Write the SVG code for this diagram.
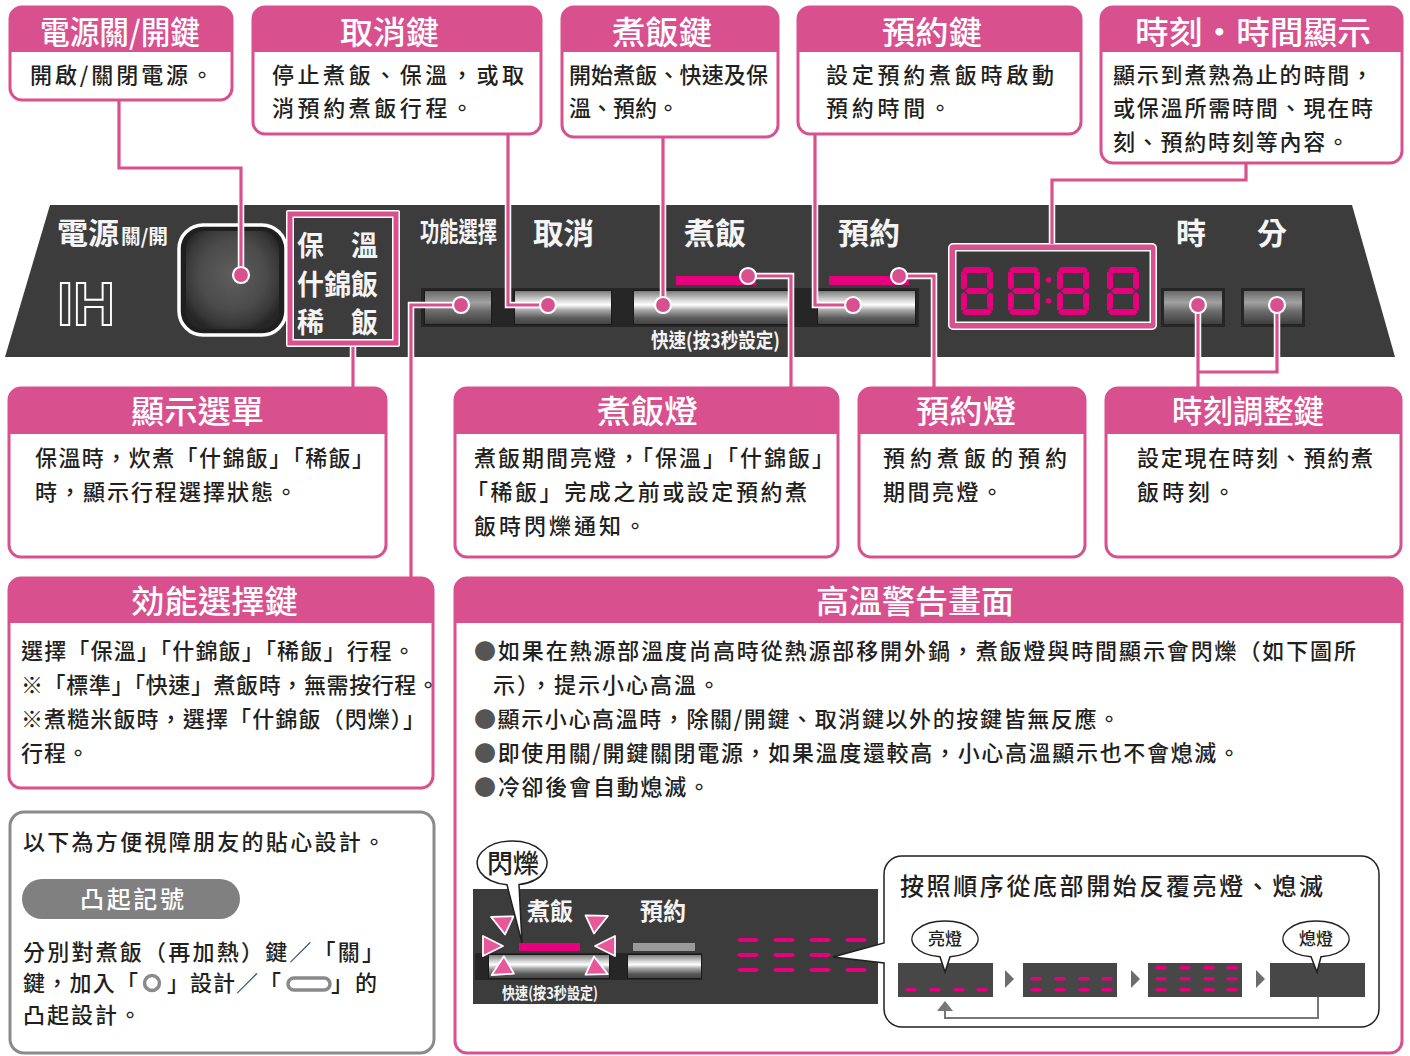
<svg xmlns="http://www.w3.org/2000/svg" width="1410" height="1056" viewBox="0 0 1410 1056">
<style>
  .cjk{font-family:"Noto Sans CJK TC","Noto Sans CJK SC",sans-serif}
  .hdr{fill:#D9508F}
  .frame{fill:none;stroke:#D9508F;stroke-width:3}
  .ttl{font-family:"Noto Sans CJK TC","Noto Sans CJK SC",sans-serif;font-size:32px;font-weight:500;fill:#fff}
  .txt{font-family:"Noto Sans CJK TC","Noto Sans CJK SC",sans-serif;font-size:22px;font-weight:500;fill:#231f20}
  .pl{font-family:"Noto Sans CJK TC","Noto Sans CJK SC",sans-serif;font-weight:700;fill:#f4f4f4}
  .led{fill:#E6007E}
  .wire-edge{fill:none;stroke:#fff;stroke-width:6.5}
  .wire{fill:none;stroke:#D9508F;stroke-width:3.2}
  .dot{fill:#D9508F;stroke:#fff;stroke-width:2.2}
  .ink{fill:#fff;stroke:#231f20;stroke-width:1.5}
  .gbul{fill:#555}
</style>
<defs>
  <linearGradient id="metal" x1="0" y1="0" x2="0" y2="1">
    <stop offset="0" stop-color="#7c7c7c"/>
    <stop offset="0.28" stop-color="#d8d8d8"/>
    <stop offset="0.42" stop-color="#ffffff"/>
    <stop offset="0.58" stop-color="#a8a8a8"/>
    <stop offset="0.82" stop-color="#5a5a5a"/>
    <stop offset="1" stop-color="#444"/>
  </linearGradient>
  <linearGradient id="metalDark" x1="0" y1="0" x2="0" y2="1">
    <stop offset="0" stop-color="#6a6a6a"/>
    <stop offset="0.35" stop-color="#a2a2a2"/>
    <stop offset="0.6" stop-color="#6e6e6e"/>
    <stop offset="1" stop-color="#3e3e3e"/>
  </linearGradient>
  <radialGradient id="knob" cx="0.5" cy="0.45" r="0.6">
    <stop offset="0" stop-color="#5e5e5e"/>
    <stop offset="0.6" stop-color="#4b4b4b"/>
    <stop offset="0.85" stop-color="#383838"/>
    <stop offset="1" stop-color="#262626"/>
  </radialGradient>
  <!-- seven segment "8" -->
  <g id="seg8">
    <polygon points="4,0 28,0 31,3 27,6 5,6 1,3"/>
    <polygon points="0,5 3,4 6,8 6,20 3,23 0,21"/>
    <polygon points="32,5 29,4 26,8 26,20 29,23 32,21"/>
    <polygon points="4,24 7,21 25,21 28,24 25,27 7,27"/>
    <polygon points="0,27 3,25 6,28 6,40 3,44 0,43"/>
    <polygon points="32,27 29,25 26,28 26,40 29,44 32,43"/>
    <polygon points="5,42 27,42 31,45 28,48 4,48 1,45"/>
  </g>
  <path id="dash" d="M2,0 H20 L22,2 L20,4 H2 L0,2 Z"/>
  <path id="dashS" d="M1.5,0 H10.5 L12,1.7 L10.5,3.4 H1.5 L0,1.7 Z"/>
  <path id="tri" d="M-8,-10 L12,0 L-8,10 Z"/>
</defs>

<rect width="1410" height="1056" fill="#fff"/>

<!-- control panel -->
<g id="panel">
  <polygon points="50,205 1352,205 1395,357 5,357" fill="#3c3c3c"/>
  <text class="pl" x="57" y="244" font-size="30" textLength="62" lengthAdjust="spacingAndGlyphs">電源</text>
  <text class="pl" x="121" y="244" font-size="20" font-weight="500" textLength="47" lengthAdjust="spacingAndGlyphs">關/開</text>
  <text x="57" y="325" font-family="Liberation Sans, sans-serif" font-weight="700" font-size="62" fill="none" stroke="#fff" stroke-width="2" textLength="58" lengthAdjust="spacingAndGlyphs">IH</text>

  <!-- power knob -->
  <rect x="179" y="225" width="107" height="110" rx="24" fill="#1f1f1f" stroke="#fff" stroke-width="3.5"/>
  <rect x="186" y="231" width="93" height="98" rx="18" fill="url(#knob)"/>

  <!-- menu indicator -->
  <rect x="286" y="210" width="114" height="137" rx="2" fill="#fff"/>
  <rect x="287.5" y="211.5" width="111" height="134" fill="#D9508F"/>
  <rect x="292.5" y="216.5" width="101" height="124" fill="#fff"/>
  <rect x="294" y="218" width="98" height="121" fill="#3c3c3c"/>
  <text class="pl" x="297" y="256" font-size="28" font-weight="400" textLength="81" lengthAdjust="spacingAndGlyphs">保　溫</text>
  <text class="pl" x="297" y="295" font-size="28" font-weight="400" textLength="81" lengthAdjust="spacingAndGlyphs">什錦飯</text>
  <text class="pl" x="297" y="333" font-size="28" font-weight="400" textLength="81" lengthAdjust="spacingAndGlyphs">稀　飯</text>

  <!-- key labels -->
  <text class="pl" x="420" y="242" font-size="27" textLength="77" lengthAdjust="spacingAndGlyphs">功能選擇</text>
  <text class="pl" x="533" y="244" font-size="30" textLength="61" lengthAdjust="spacingAndGlyphs">取消</text>
  <text class="pl" x="684" y="244" font-size="30" textLength="62" lengthAdjust="spacingAndGlyphs">煮飯</text>
  <text class="pl" x="838" y="244" font-size="30" textLength="62" lengthAdjust="spacingAndGlyphs">預約</text>
  <text class="pl" x="1176" y="244" font-size="30">時</text>
  <text class="pl" x="1257" y="244" font-size="30">分</text>

  <!-- key row -->
  <rect x="421" y="288" width="498" height="39" fill="#262626"/>
  <rect x="424" y="290" width="68" height="35" fill="#1a1a1a"/>
  <rect x="425" y="291" width="66" height="33" fill="url(#metalDark)"/>
  <rect x="514" y="290" width="98" height="35" fill="#1a1a1a"/>
  <rect x="515" y="291" width="96" height="33" fill="url(#metal)"/>
  <rect x="633" y="290" width="158" height="35" fill="#1a1a1a"/>
  <rect x="634" y="291" width="156" height="33" fill="url(#metal)"/>
  <rect x="817" y="290" width="99" height="35" fill="#1a1a1a"/>
  <rect x="818" y="291" width="97" height="33" fill="url(#metal)"/>
  <rect x="1161" y="288" width="64" height="39" fill="#262626"/>
  <rect x="1164" y="291" width="58" height="33" fill="url(#metalDark)"/>
  <rect x="1241" y="288" width="64" height="39" fill="#262626"/>
  <rect x="1244" y="291" width="58" height="33" fill="url(#metalDark)"/>
  <text class="pl" x="651" y="348" font-size="20" font-weight="500" textLength="129" lengthAdjust="spacingAndGlyphs">快速(按3秒設定)</text>

  <!-- lamps -->
  <rect class="led" x="676" y="276" width="80" height="9"/>
  <rect class="led" x="829" y="276" width="80" height="9"/>

  <!-- clock display -->
  <rect x="948" y="243" width="209" height="87" rx="5" fill="#fff"/>
  <rect x="949.5" y="244.5" width="206" height="84" rx="4" fill="#D9508F"/>
  <rect x="955" y="250" width="196" height="73" fill="#fff"/>
  <rect x="956.5" y="251.5" width="193" height="70" fill="#3a3a3a"/>
  <g class="led">
    <use href="#seg8" x="961" y="267"/>
    <use href="#seg8" x="1008" y="267"/>
    <use href="#seg8" x="1057" y="267"/>
    <use href="#seg8" x="1107" y="267"/>
    <circle cx="1048.5" cy="280" r="2.8"/>
    <circle cx="1048.5" cy="301" r="2.8"/>
  </g>
</g>

<!-- leader lines -->
<g id="connectors">
  <path class="wire-edge" d="M119,100 V168 H241 V275"/>
  <path class="wire-edge" d="M508,134 V305 H548"/>
  <path class="wire-edge" d="M663,137 V305"/>
  <path class="wire-edge" d="M815,134 V305 H853"/>
  <path class="wire-edge" d="M1246,163 V180 H1052 V244"/>
  <path class="wire-edge" d="M353,347 V388"/>
  <path class="wire-edge" d="M461,305 H411 V578"/>
  <path class="wire-edge" d="M748,276 H791 V388"/>
  <path class="wire-edge" d="M899,276 H934 V388"/>
  <path class="wire-edge" d="M1198,305 V388"/>
  <path class="wire-edge" d="M1277,305 V372 H1198"/>
  <path class="wire" d="M119,100 V168 H241 V275"/>
  <path class="wire" d="M508,134 V305 H548"/>
  <path class="wire" d="M663,137 V305"/>
  <path class="wire" d="M815,134 V305 H853"/>
  <path class="wire" d="M1246,163 V180 H1052 V244"/>
  <path class="wire" d="M353,347 V388"/>
  <path class="wire" d="M461,305 H411 V578"/>
  <path class="wire" d="M748,276 H791 V388"/>
  <path class="wire" d="M899,276 H934 V388"/>
  <path class="wire" d="M1198,305 V388"/>
  <path class="wire" d="M1277,305 V372 H1198"/>
  <circle class="dot" cx="241" cy="275" r="8"/>
  <circle class="dot" cx="461" cy="305" r="8"/>
  <circle class="dot" cx="548" cy="305" r="8"/>
  <circle class="dot" cx="663" cy="305" r="8"/>
  <circle class="dot" cx="853" cy="305" r="8"/>
  <circle class="dot" cx="748" cy="276" r="8"/>
  <circle class="dot" cx="899" cy="276" r="8"/>
  <circle class="dot" cx="1198" cy="305" r="8"/>
  <circle class="dot" cx="1277" cy="305" r="8"/>
</g>

<!-- top row -->
<g id="key-power">
  <rect x="10" y="7" width="222" height="93" rx="12" fill="#fff"/>
  <path class="hdr" d="M10,52 V19 A12,12 0 0 1 22,7 H220 A12,12 0 0 1 232,19 V52 Z"/>
  <rect class="frame" x="10" y="7" width="222" height="93" rx="12"/>
  <text class="ttl" x="40" y="44" textLength="160" lengthAdjust="spacingAndGlyphs">電源關/開鍵</text>
  <text class="txt" x="30" y="83" textLength="183">開啟/關閉電源。</text>
</g>
<g id="key-cancel">
  <rect x="253" y="7" width="288" height="127" rx="12" fill="#fff"/>
  <path class="hdr" d="M253,52 V19 A12,12 0 0 1 265,7 H529 A12,12 0 0 1 541,19 V52 Z"/>
  <rect class="frame" x="253" y="7" width="288" height="127" rx="12"/>
  <text class="ttl" x="340" y="44" textLength="99" lengthAdjust="spacingAndGlyphs">取消鍵</text>
  <text class="txt" x="272" y="83" textLength="252">停止煮飯、保溫，或取</text>
  <text class="txt" x="272" y="116" textLength="201">消預約煮飯行程。</text>
</g>
<g id="key-cook">
  <rect x="562" y="7" width="216" height="130" rx="12" fill="#fff"/>
  <path class="hdr" d="M562,52 V19 A12,12 0 0 1 574,7 H766 A12,12 0 0 1 778,19 V52 Z"/>
  <rect class="frame" x="562" y="7" width="216" height="130" rx="12"/>
  <text class="ttl" x="612" y="44" textLength="100" lengthAdjust="spacingAndGlyphs">煮飯鍵</text>
  <text class="txt" x="569" y="83" textLength="199">開始煮飯、快速及保</text>
  <text class="txt" x="569" y="116" textLength="110">溫、預約。</text>
</g>
<g id="key-reserve">
  <rect x="798" y="7" width="283" height="127" rx="12" fill="#fff"/>
  <path class="hdr" d="M798,52 V19 A12,12 0 0 1 810,7 H1069 A12,12 0 0 1 1081,19 V52 Z"/>
  <rect class="frame" x="798" y="7" width="283" height="127" rx="12"/>
  <text class="ttl" x="882" y="44" textLength="100" lengthAdjust="spacingAndGlyphs">預約鍵</text>
  <text class="txt" x="826" y="83" textLength="228">設定預約煮飯時啟動</text>
  <text class="txt" x="826" y="116" textLength="125">預約時間。</text>
</g>
<g id="time-display">
  <rect x="1101" y="7" width="301" height="156" rx="12" fill="#fff"/>
  <path class="hdr" d="M1101,52 V19 A12,12 0 0 1 1113,7 H1390 A12,12 0 0 1 1402,19 V52 Z"/>
  <rect class="frame" x="1101" y="7" width="301" height="156" rx="12"/>
  <text class="ttl" x="1135" y="44" textLength="236" lengthAdjust="spacingAndGlyphs">時刻・時間顯示</text>
  <text class="txt" x="1113" y="83" textLength="260">顯示到煮熟為止的時間，</text>
  <text class="txt" x="1113" y="116" textLength="260">或保溫所需時間、現在時</text>
  <text class="txt" x="1113" y="150" textLength="236">刻、預約時刻等內容。</text>
</g>

<!-- middle row -->
<g id="menu-display">
  <rect x="9" y="388" width="377" height="169" rx="12" fill="#fff"/>
  <path class="hdr" d="M9,434 V400 A12,12 0 0 1 21,388 H374 A12,12 0 0 1 386,400 V434 Z"/>
  <rect class="frame" x="9" y="388" width="377" height="169" rx="12"/>
  <text class="ttl" x="131" y="423" textLength="133" lengthAdjust="spacingAndGlyphs">顯示選單</text>
  <text class="txt" x="35" y="466" textLength="339">保溫時，炊煮「什錦飯」「稀飯」</text>
  <text class="txt" x="35" y="500" textLength="262">時，顯示行程選擇狀態。</text>
</g>
<g id="cook-lamp">
  <rect x="455" y="388" width="383" height="169" rx="12" fill="#fff"/>
  <path class="hdr" d="M455,434 V400 A12,12 0 0 1 467,388 H826 A12,12 0 0 1 838,400 V434 Z"/>
  <rect class="frame" x="455" y="388" width="383" height="169" rx="12"/>
  <text class="ttl" x="597" y="423" textLength="101" lengthAdjust="spacingAndGlyphs">煮飯燈</text>
  <text class="txt" x="474" y="466" textLength="360">煮飯期間亮燈，「保溫」「什錦飯」</text>
  <text class="txt" x="466" y="500" textLength="341">「稀飯」完成之前或設定預約煮</text>
  <text class="txt" x="474" y="534" textLength="172">飯時閃爍通知。</text>
</g>
<g id="reserve-lamp">
  <rect x="859" y="388" width="226" height="169" rx="12" fill="#fff"/>
  <path class="hdr" d="M859,434 V400 A12,12 0 0 1 871,388 H1073 A12,12 0 0 1 1085,400 V434 Z"/>
  <rect class="frame" x="859" y="388" width="226" height="169" rx="12"/>
  <text class="ttl" x="916" y="423" textLength="100" lengthAdjust="spacingAndGlyphs">預約燈</text>
  <text class="txt" x="883" y="466" textLength="184">預約煮飯的預約</text>
  <text class="txt" x="883" y="500" textLength="120">期間亮燈。</text>
</g>
<g id="clock-keys">
  <rect x="1106" y="388" width="295" height="169" rx="12" fill="#fff"/>
  <path class="hdr" d="M1106,434 V400 A12,12 0 0 1 1118,388 H1389 A12,12 0 0 1 1401,400 V434 Z"/>
  <rect class="frame" x="1106" y="388" width="295" height="169" rx="12"/>
  <text class="ttl" x="1172" y="423" textLength="152" lengthAdjust="spacingAndGlyphs">時刻調整鍵</text>
  <text class="txt" x="1137" y="466" textLength="236">設定現在時刻、預約煮</text>
  <text class="txt" x="1137" y="500" textLength="98">飯時刻。</text>
</g>

<!-- bottom left -->
<g id="function-key">
  <rect x="9" y="578" width="424" height="210" rx="12" fill="#fff"/>
  <path class="hdr" d="M9,623 V590 A12,12 0 0 1 21,578 H421 A12,12 0 0 1 433,590 V623 Z"/>
  <rect class="frame" x="9" y="578" width="424" height="210" rx="12"/>
  <text class="ttl" x="131" y="613" textLength="167" lengthAdjust="spacingAndGlyphs">効能選擇鍵</text>
  <text class="txt" x="21" y="659" textLength="394">選擇「保溫」「什錦飯」「稀飯」行程。</text>
  <text class="txt" x="21" y="693" textLength="418">※「標準」「快速」煮飯時，無需按行程。</text>
  <text class="txt" x="21" y="727" textLength="404">※煮糙米飯時，選擇「什錦飯（閃爍）」</text>
  <text class="txt" x="21" y="761" textLength="68">行程。</text>
</g>

<g id="tactile-marks">
  <rect x="10" y="812" width="424" height="241" rx="14" fill="#fff" stroke="#8a8a8a" stroke-width="3"/>
  <text class="txt" x="23" y="850" textLength="362">以下為方便視障朋友的貼心設計。</text>
  <rect x="22" y="879" width="218" height="40" rx="20" fill="#808080"/>
  <text class="cjk" x="80" y="908" font-size="24" font-weight="500" fill="#fff" textLength="104">凸起記號</text>
  <text class="txt" x="23" y="960" textLength="361">分別對煮飯（再加熱）鍵／「關」</text>
  <text class="txt" x="23" y="991" textLength="115">鍵，加入「</text>
  <circle cx="152" cy="983" r="7.5" fill="#fff" stroke="#8a8a8a" stroke-width="3.5"/>
  <text class="txt" x="167" y="991" textLength="114">」設計／「</text>
  <rect x="288" y="978" width="42" height="12" rx="6" fill="#fff" stroke="#8a8a8a" stroke-width="3.5"/>
  <text class="txt" x="331" y="991" textLength="46">」的</text>
  <text class="txt" x="23" y="1023" textLength="118">凸起設計。</text>
</g>

<!-- bottom right -->
<g id="high-temp">
  <rect x="455" y="578" width="947" height="475" rx="12" fill="#fff"/>
  <path class="hdr" d="M455,623 V590 A12,12 0 0 1 467,578 H1390 A12,12 0 0 1 1402,590 V623 Z"/>
  <rect class="frame" x="455" y="578" width="947" height="475" rx="12"/>
  <text class="ttl" x="816" y="613" textLength="198" lengthAdjust="spacingAndGlyphs">高溫警告畫面</text>
  <text class="txt" x="474" y="659" textLength="882"><tspan class="gbul">●</tspan>如果在熱源部溫度尚高時從熱源部移開外鍋，煮飯燈與時間顯示會閃爍（如下圖所</text>
  <text class="txt" x="493" y="693" textLength="227">示），提示小心高溫。</text>
  <text class="txt" x="474" y="727" textLength="646"><tspan class="gbul">●</tspan>顯示小心高溫時，除關/開鍵、取消鍵以外的按鍵皆無反應。</text>
  <text class="txt" x="474" y="761" textLength="766"><tspan class="gbul">●</tspan>即使用關/開鍵關閉電源，如果溫度還較高，小心高溫顯示也不會熄滅。</text>
  <text class="txt" x="474" y="795" textLength="236"><tspan class="gbul">●</tspan>冷卻後會自動熄滅。</text>

  <!-- warning example panel -->
  <rect x="473" y="889" width="405" height="115" fill="#3c3c3c"/>
  <text class="pl" x="527" y="920" font-size="24" textLength="46" lengthAdjust="spacingAndGlyphs">煮飯</text>
  <text class="pl" x="640" y="920" font-size="24" textLength="46" lengthAdjust="spacingAndGlyphs">預約</text>
  <rect class="led" x="519" y="943" width="61" height="8"/>
  <rect x="633" y="943" width="62" height="8" fill="#9a9a9a"/>
  <rect x="475" y="953" width="227" height="27" fill="#262626"/>
  <rect x="488" y="954" width="122" height="25" fill="#1a1a1a"/>
  <rect x="489" y="955" width="120" height="23" fill="url(#metal)"/>
  <rect x="627" y="954" width="75" height="25" fill="#1a1a1a"/>
  <rect x="628" y="955" width="73" height="23" fill="url(#metal)"/>
  <text class="pl" x="502" y="999" font-size="16" font-weight="500" textLength="96" lengthAdjust="spacingAndGlyphs">快速(按3秒設定)</text>
  <g fill="#E8579A" stroke="#fff" stroke-width="1.8" stroke-linejoin="round">
    <use href="#tri" transform="translate(502,922) rotate(205)"/>
    <use href="#tri" transform="translate(491,946)"/>
    <use href="#tri" transform="translate(502,969) rotate(150)"/>
    <use href="#tri" transform="translate(597,921) rotate(-25)"/>
    <use href="#tri" transform="translate(607,946) rotate(180)"/>
    <use href="#tri" transform="translate(597,969) rotate(25)"/>
  </g>
  <g class="led">
    <use href="#dash" x="737" y="938"/><use href="#dash" x="773" y="938"/><use href="#dash" x="809" y="938"/><use href="#dash" x="845" y="938"/>
    <use href="#dash" x="737" y="953"/><use href="#dash" x="773" y="953"/><use href="#dash" x="809" y="953"/><use href="#dash" x="845" y="953"/>
    <use href="#dash" x="737" y="968"/><use href="#dash" x="773" y="968"/><use href="#dash" x="809" y="968"/><use href="#dash" x="845" y="968"/>
  </g>
  <path class="ink" d="M507,884.8 A35,22 0 1 1 519,884.6 L522,943 Z"/>
  <text class="cjk" x="513" y="873" font-size="26" font-weight="500" fill="#231f20" text-anchor="middle">閃爍</text>

  <!-- sequence callout -->
  <path class="ink" d="M884,943 V874 A18,18 0 0 1 902,856 H1361 A18,18 0 0 1 1379,874 V1009 A18,18 0 0 1 1361,1027 H902 A18,18 0 0 1 884,1009 V963 L833,957 Z"/>
  <text class="cjk" x="900" y="895" font-size="24" font-weight="500" fill="#231f20" textLength="423">按照順序從底部開始反覆亮燈、熄滅</text>
  <rect x="898" y="963" width="95" height="34" fill="#474747"/>
  <rect x="1023" y="963" width="94" height="34" fill="#474747"/>
  <rect x="1148" y="963" width="94" height="34" fill="#474747"/>
  <rect x="1270" y="963" width="95" height="34" fill="#474747"/>
  <g class="led">
    <use href="#dashS" x="905" y="988"/><use href="#dashS" x="929" y="988"/><use href="#dashS" x="953" y="988"/><use href="#dashS" x="976" y="988"/>
    <use href="#dashS" x="1030" y="977"/><use href="#dashS" x="1054" y="977"/><use href="#dashS" x="1078" y="977"/><use href="#dashS" x="1101" y="977"/>
    <use href="#dashS" x="1030" y="988"/><use href="#dashS" x="1054" y="988"/><use href="#dashS" x="1078" y="988"/><use href="#dashS" x="1101" y="988"/>
    <use href="#dashS" x="1155" y="966"/><use href="#dashS" x="1179" y="966"/><use href="#dashS" x="1203" y="966"/><use href="#dashS" x="1226" y="966"/>
    <use href="#dashS" x="1155" y="977"/><use href="#dashS" x="1179" y="977"/><use href="#dashS" x="1203" y="977"/><use href="#dashS" x="1226" y="977"/>
    <use href="#dashS" x="1155" y="988"/><use href="#dashS" x="1179" y="988"/><use href="#dashS" x="1203" y="988"/><use href="#dashS" x="1226" y="988"/>
  </g>
  <g fill="#6d6d6d">
    <polygon points="1005,970 1014,979 1005,988"/>
    <polygon points="1131,970 1140,979 1131,988"/>
    <polygon points="1256,970 1265,979 1256,988"/>
  </g>
  <path d="M1318,997 V1018 H945 V1010" fill="none" stroke="#777" stroke-width="2"/>
  <polygon points="945,1001 953,1011 937,1011" fill="#777"/>
  <path class="ink" d="M940,956.8 A33,18 0 1 1 950,956.8 L945,972 Z"/>
  <text class="cjk" x="945" y="945" font-size="17" font-weight="500" fill="#231f20" text-anchor="middle">亮燈</text>
  <path class="ink" d="M1311,956.8 A33,18 0 1 1 1321,956.8 L1317,972 Z"/>
  <text class="cjk" x="1316" y="945" font-size="17" font-weight="500" fill="#231f20" text-anchor="middle">熄燈</text>
</g>
</svg>
